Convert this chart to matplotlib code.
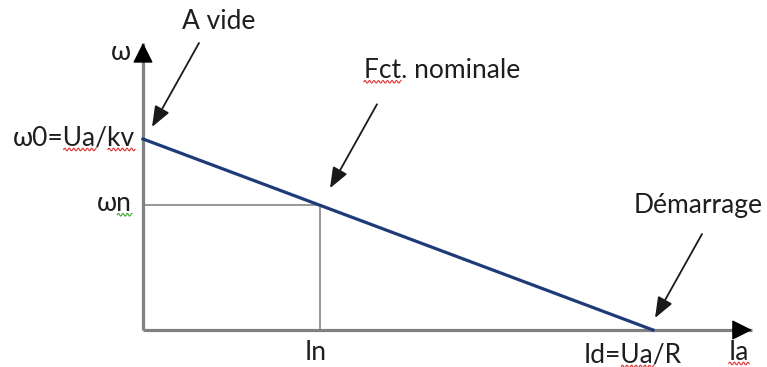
import matplotlib
matplotlib.use('Agg')
import numpy as np
import matplotlib.pyplot as plt
from matplotlib.transforms import offset_copy, IdentityTransform

# caractéristique w(Ia) du moteur à courant continu (valeurs normalisées)
w0 = 1.0        # vitesse à vide  w0 = Ua/kv
Id = 1.0        # courant de démarrage Id = Ua/R
In = 0.347      # courant nominal
wn = 0.653      # vitesse nominale
ia_pts = [0.0, Id]
w_pts = [w0, 0.0]

x_max = 1.194   # bout des flèches d'axes
y_max = 1.503

plt.rcParams['font.family'] = ['Lato', 'DejaVu Sans']
txt = '#1e1e1e'
fs = 19

fig = plt.figure(figsize=(7.67, 3.67), dpi=100)
ax = fig.add_axes([0, 0, 1, 1])
ax.set_xlim(-0.2804, 1.2235)
ax.set_ylim(-0.1937, 1.7277)
ax.axis('off')

# axes avec flèches
ax.plot([0, x_max], [0, 0], color='#808080', lw=2.3, solid_capstyle='butt', zorder=2)
ax.plot([0, 0], [0, y_max], color='#808080', lw=2.3, solid_capstyle='butt', zorder=2)
head = dict(arrowstyle='-|>,head_length=0.9,head_width=0.45', color='black', lw=1,
            mutation_scale=14, shrinkA=0, shrinkB=0)
ax.annotate('', xy=(x_max, 0), xytext=(x_max - 0.03, 0), arrowprops=head, zorder=3)
ax.annotate('', xy=(0, y_max), xytext=(0, y_max - 0.08), arrowprops=head, zorder=3)

# point nominal
ax.plot([0, In, In], [wn, wn, 0], color='#7a7a7a', lw=1.1, zorder=1)

# droite w = f(Ia)
ax.plot(ia_pts, w_pts, color='#1f3a78', lw=2.3, zorder=4)

# graduations
def lab(s, xy, off, ha='center'):
    return ax.annotate(s, xy, xytext=off, textcoords='offset pixels',
                       ha=ha, va='center', fontsize=fs, color=txt)

lab('ω', (0, y_max), (-22, -10))
t_w0 = lab('ω0=Ua/kv', (0, w0), (-8, 1), ha='right')
t_wn = lab('ωn', (0, wn), (-11, 2), ha='right')
lab('In', (In, 0), (-4, -22))
t_id = lab('Id=Ua/R', (Id, 0), (-20, -25))
t_ia = lab('Ia', (x_max, 0), (-13, -22))

# flèches de commentaires
arr = dict(arrowstyle='-|>,head_length=0.9,head_width=0.35', color='#1a1a1a', lw=1.3,
           mutation_scale=14, shrinkA=0, shrinkB=0)
notes = [('A vide', 0, w0, 9, 12, 76, 117),
         ('Fct. nominale', In, wn, 10, 17, 122, 135),
         ('Démarrage', Id, 0, 2, 12, 45, 125)]
t_notes = []
for label, x, y, dx, dy, tx, ty in notes:
    tip = offset_copy(ax.transData, fig=fig, x=dx, y=dy, units='dots')
    ax.annotate('', xy=(x, y), xycoords=tip, xytext=(47, 84),
                textcoords='offset pixels', arrowprops=arr)
    t_notes.append(lab(label, (x, y), (tx, ty)))

# soulignés ondulés du correcteur orthographique
fig.canvas.draw()
rend = fig.canvas.get_renderer()

def squiggle(t, i, j, color):
    s = t.get_text()
    bb = t.get_window_extent(rend)
    fp = t.get_fontproperties()
    w = lambda u: rend.get_text_width_height_descent(u, fp, ismath=False)[0] if u else 0
    x0 = bb.x0 + w(s[:i])
    x1 = bb.x0 + w(s[:j])
    xs = np.linspace(x0, x1, 60)
    ys = bb.y0 + 1 + 1.3 * np.sin((xs - x0) * 2 * np.pi / 4.5)
    fig.add_artist(plt.Line2D(xs, ys, transform=IdentityTransform(), color=color, lw=0.8))

red = '#e03030'
squiggle(t_w0, 3, 5, red)
squiggle(t_w0, 6, 8, red)
squiggle(t_notes[1], 0, 3, red)
squiggle(t_wn, 1, 2, '#3aa83a')
squiggle(t_id, 3, 5, red)
squiggle(t_ia, 0, 2, red)

fig.savefig('out.png', dpi=100, facecolor='white')
